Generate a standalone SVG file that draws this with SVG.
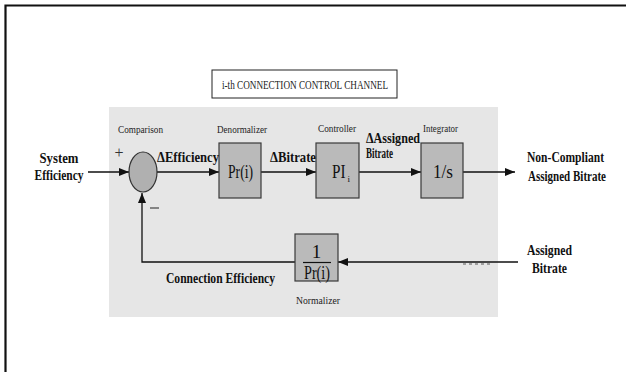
<svg xmlns="http://www.w3.org/2000/svg" width="626" height="372" viewBox="0 0 626 372">
<style>
.sm{font-family:"Liberation Serif",serif;font-size:11px;fill:#222}
.b{font-family:"Liberation Serif",serif;font-size:14.5px;font-weight:bold;fill:#111}
.big{font-family:"Liberation Serif",serif;font-size:19px;fill:#111}
.box{fill:#bababa;stroke:#3a3a3a;stroke-width:1.2}
.ln{stroke:#111;stroke-width:1.3;fill:none}
</style>
<defs>
<marker id="ah" markerUnits="userSpaceOnUse" markerWidth="10" markerHeight="8" refX="10" refY="4" orient="auto">
<path d="M0,0 L10,4 L0,8 Z" fill="#111"/>
</marker>
</defs>
<rect x="0" y="0" width="626" height="372" fill="#fff"/>
<path d="M5.5,372 V5.5 H626" stroke="#111" stroke-width="2.2" fill="none"/>
<rect x="109" y="107" width="389" height="210" fill="#e6e6e6"/>
<g id="title">
<rect x="212" y="70" width="185" height="28" fill="#fff" stroke="#222" stroke-width="1"/>
<text class="sm" x="222" y="88.5" textLength="166" lengthAdjust="spacingAndGlyphs" style="font-size:11.5px">i-th CONNECTION CONTROL CHANNEL</text>
</g>
<g id="connectors">
<line class="ln" x1="88" y1="172" x2="129" y2="172" marker-end="url(#ah)"/>
<line class="ln" x1="157" y1="172" x2="219" y2="172" marker-end="url(#ah)"/>
<line class="ln" x1="261" y1="172" x2="316" y2="172" marker-end="url(#ah)"/>
<line class="ln" x1="359" y1="172" x2="421" y2="172" marker-end="url(#ah)"/>
<line class="ln" x1="463" y1="172" x2="515" y2="172" marker-end="url(#ah)"/>
<line class="ln" x1="518" y1="262" x2="338" y2="262" marker-end="url(#ah)"/>
<polyline class="ln" points="295,262 142,262 142,193" marker-end="url(#ah)"/>
<line x1="463" y1="264" x2="491" y2="264" stroke="#888" stroke-width="1.5" stroke-dasharray="3,3"/>
</g>
<g id="input-label">
<text class="b" x="59" y="163" text-anchor="middle" textLength="39" lengthAdjust="spacingAndGlyphs">System</text>
<text class="b" x="59" y="180" text-anchor="middle" textLength="49" lengthAdjust="spacingAndGlyphs">Efficiency</text>
</g>
<g id="comparison">
<text class="sm" x="118" y="133" textLength="45" lengthAdjust="spacingAndGlyphs">Comparison</text>
<ellipse cx="143" cy="172" rx="14" ry="20" fill="#b0b0b0" stroke="#333" stroke-width="1.2"/>
<text x="114.5" y="158" style="font-family:'Liberation Serif',serif;font-size:16px;fill:#333">+</text>
<line x1="150" y1="208" x2="159" y2="208" stroke="#222" stroke-width="1"/>
</g>
<g id="denormalizer">
<text class="sm" x="217" y="133" textLength="50" lengthAdjust="spacingAndGlyphs">Denormalizer</text>
<rect class="box" x="219" y="143" width="42" height="55"/>
<text class="big" x="228" y="178" textLength="25" lengthAdjust="spacingAndGlyphs">Pr(i)</text>
</g>
<g id="controller">
<text class="sm" x="318" y="132" textLength="38" lengthAdjust="spacingAndGlyphs">Controller</text>
<rect class="box" x="316" y="143" width="43" height="55"/>
<text class="big" x="332" y="178" textLength="13.5" lengthAdjust="spacingAndGlyphs">PI</text>
<text x="347.5" y="182" style="font-family:'Liberation Serif',serif;font-size:9px;fill:#111">i</text>
</g>
<g id="integrator">
<text class="sm" x="423" y="132" textLength="35" lengthAdjust="spacingAndGlyphs">Integrator</text>
<rect class="box" x="421" y="143" width="42" height="55"/>
<text class="big" x="433" y="178" textLength="20" lengthAdjust="spacingAndGlyphs">1/s</text>
</g>
<g id="normalizer">
<rect class="box" x="295" y="234" width="43" height="47"/>
<text class="big" x="316.5" y="258" text-anchor="middle">1</text>
<line x1="303" y1="262.5" x2="331" y2="262.5" stroke="#111" stroke-width="1.2"/>
<text class="big" x="304" y="278.5" textLength="26" lengthAdjust="spacingAndGlyphs">Pr(i)</text>
<text class="sm" x="296" y="304" textLength="44" lengthAdjust="spacingAndGlyphs">Normalizer</text>
</g>
<g id="labels">
<text class="b" x="157" y="162" textLength="62" lengthAdjust="spacingAndGlyphs">ΔEfficiency</text>
<text class="b" x="270" y="162" textLength="46" lengthAdjust="spacingAndGlyphs">ΔBitrate</text>
<text class="b" x="366" y="143" textLength="54" lengthAdjust="spacingAndGlyphs">ΔAssigned</text>
<text class="b" x="366" y="158" textLength="27" lengthAdjust="spacingAndGlyphs">Bitrate</text>
<text class="b" x="527" y="162" textLength="77" lengthAdjust="spacingAndGlyphs">Non-Compliant</text>
<text class="b" x="528" y="181" textLength="78" lengthAdjust="spacingAndGlyphs" style="font-size:14px">Assigned Bitrate</text>
<text class="b" x="527" y="255" textLength="45" lengthAdjust="spacingAndGlyphs">Assigned</text>
<text class="b" x="532" y="273" textLength="35" lengthAdjust="spacingAndGlyphs">Bitrate</text>
<text class="b" x="166" y="283" textLength="109" lengthAdjust="spacingAndGlyphs">Connection Efficiency</text>
</g>
</svg>
